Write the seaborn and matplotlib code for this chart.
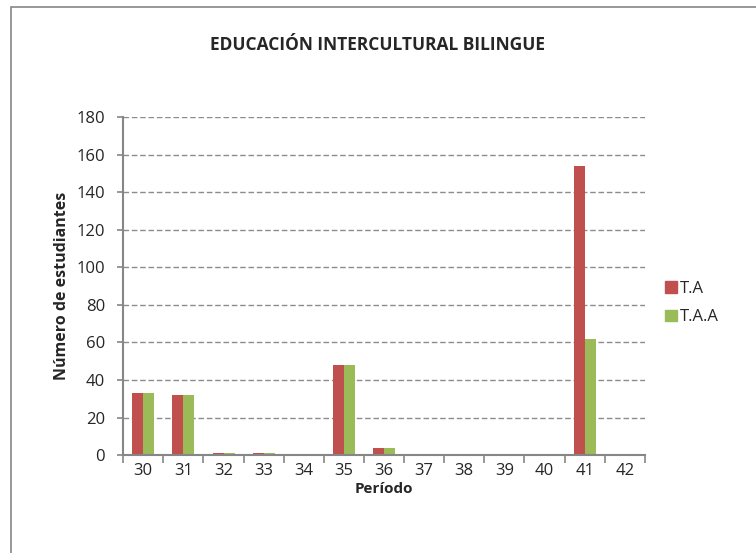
import numpy as np
import pandas as pd
import matplotlib.pyplot as plt
import matplotlib.patches as mpatches
import matplotlib.ticker as mticker
import seaborn as sns

# Data
periodos = ["30", "31", "32", "33", "34", "35", "36", "37", "38", "39", "40", "41", "42"]
ta = [33, 32, 1, 1, 0, 48, 4, 0, 0, 0, 0, 154, 0]
taa = [33, 32, 1, 1, 0, 48, 4, 0, 0, 0, 0, 62, 0]
series = ["T.A", "T.A.A"]
colores = ["#C0504D", "#9BBB59"]

df = pd.DataFrame({
    "periodo": periodos * 2,
    "valor": ta + taa,
    "serie": [series[0]] * len(ta) + [series[1]] * len(taa),
})

sns.set_style("white")
plt.rcParams["font.family"] = ["Open Sans", "DejaVu Sans"]

fig = plt.figure(figsize=(7.56, 5.53), dpi=100)
ax = fig.add_axes([0.163, 0.177, 0.69, 0.611])

sns.barplot(data=df, x="periodo", y="valor", hue="serie", order=periodos,
            hue_order=series, palette=colores, width=0.55, gap=0,
            saturation=1, linewidth=0, ax=ax, legend=False)

ax.set_ylim(0, 180)
ax.set_xlim(-0.5, len(periodos) - 0.5)
ax.yaxis.set_major_locator(mticker.MultipleLocator(20))
ax.grid(axis="y", linestyle=(0, (4, 2)), color="#8c8c8c", linewidth=1)
ax.set_axisbelow(True)

for s in ["top", "right"]:
    ax.spines[s].set_visible(False)
for s in ["left", "bottom"]:
    ax.spines[s].set_color("#868686")
    ax.spines[s].set_linewidth(1.5)

ax.tick_params(axis="y", which="major", direction="out", length=4, width=1.2,
               color="#868686", labelsize=12, pad=9, left=True)
ax.tick_params(axis="x", which="major", length=0, labelsize=12, pad=6)
ax.xaxis.set_minor_locator(mticker.FixedLocator(np.arange(-0.5, len(periodos), 1)))
ax.tick_params(axis="x", which="minor", direction="out", length=6, width=1.2,
               color="#868686", bottom=True)

ax.set_xlabel("Período", fontsize=11, fontweight="bold", labelpad=2)
ax.set_ylabel("Número de estudiantes", fontsize=11.5, fontweight="bold", labelpad=5)

fig.text(0.5, 0.918, "EDUCACIÓN INTERCULTURAL BILINGUE", ha="center", va="center",
         fontsize=12.5, fontweight="bold")

handles = [mpatches.Patch(color=c, label=l) for c, l in zip(colores, series)]
ax.legend(handles=handles, loc="center left", bbox_to_anchor=(1.01, 0.45),
          frameon=False, fontsize=12, handlelength=0.7, handleheight=0.7,
          handletextpad=0.2, labelspacing=0.75)

# outer chart border
fig.patches.append(mpatches.Rectangle((11 / 756, -0.1), 1.2, 1.1 - 7 / 553,
                                      transform=fig.transFigure, fill=False,
                                      edgecolor="#868686", linewidth=1.2))

fig.savefig("out.png", dpi=100)
